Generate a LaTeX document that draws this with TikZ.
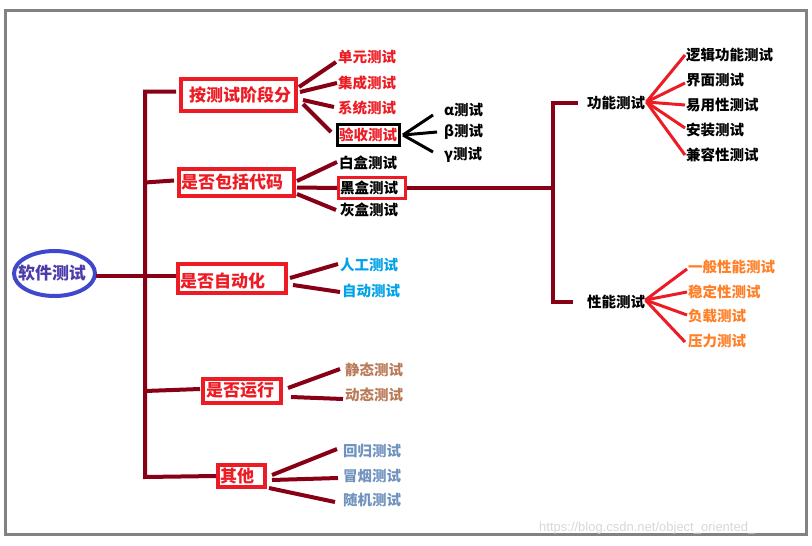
\documentclass[tikz,border=0pt]{standalone}
\usepackage{fontspec}
\setmainfont{Liberation Sans}
\newfontfamily\cjk{Noto Sans CJK SC}
\usetikzlibrary{shapes.geometric}
\definecolor{pred}{RGB}{237,28,36}
\definecolor{dred}{RGB}{136,0,21}
\definecolor{indig}{RGB}{63,72,204}
\definecolor{roottxt}{RGB}{75,60,170}
\definecolor{lblue}{RGB}{0,162,232}
\definecolor{brwn}{RGB}{185,122,87}
\definecolor{bgray}{RGB}{112,146,190}
\definecolor{orng}{RGB}{255,127,39}
\definecolor{frm}{RGB}{130,130,130}
\definecolor{wmk}{RGB}{215,215,215}
\begin{document}
\begin{tikzpicture}[x=1pt,y=-1pt,
  conn/.style={draw=dred,line width=4pt},
  fanred/.style={draw=pred,line width=3pt},
  fanblk/.style={draw=black,line width=3pt},
  leaf/.style={inner sep=0pt,anchor=west,font=\cjk\bfseries\fontsize{14.5}{16}\selectfont},
  cat/.style={inner sep=0pt,text=pred,font=\cjk\bfseries\fontsize{17}{19}\selectfont},
  catbox/.style={draw=pred,line width=4pt,inner sep=0pt},
  wm/.style={inner sep=0pt,text=wmk,font=\fontsize{13}{15}\selectfont}]
\useasboundingbox (0,0) rectangle (812,546);
\draw[frm,line width=3pt] (5.5,10.5) rectangle (806.5,534.5);

% root
\node[draw=indig,line width=4pt,ellipse,minimum width=81pt,minimum height=45pt,inner sep=0pt] (root) at (54.5,273.5) {};
\node[inner sep=0pt,text=roottxt,font=\cjk\bfseries\fontsize{17}{19}\selectfont] (rootlbl) at (52,273) {软件测试};

% categories
\node[catbox,minimum width=115pt,minimum height=32pt] (b1) at (238.5,95) {};
\node[cat] (t1) at (240,94.5) {按测试阶段分};
\node[catbox,minimum width=115pt,minimum height=27pt] (b2) at (236.5,182.5) {};
\node[cat,anchor=west] (t2) at (181,182.5) {是否包括代码};
\node[catbox,minimum width=108pt,minimum height=29pt] (b3) at (232,278.5) {};
\node[cat,anchor=west] (t3) at (180,281) {是否自动化};
\node[catbox,minimum width=78pt,minimum height=24pt] (b4) at (242,391) {};
\node[cat,anchor=west] (t4) at (206,390) {是否运行};
\node[catbox,minimum width=47pt,minimum height=22pt] (b5) at (241.5,476) {};
\node[cat,anchor=west] (t5) at (220,476) {其他};

% leaves of b1
\node[leaf,text=pred] (l11) at (338,57) {单元测试};
\node[leaf,text=pred] (l12) at (338,83) {集成测试};
\node[leaf,text=pred] (l13) at (338,108) {系统测试};
\node[draw=black,line width=3pt,minimum width=62pt,minimum height=21pt,inner sep=0pt] (ys) at (368.5,135) {};
\node[leaf,text=pred] (yst) at (339,135) {验收测试};
\node[leaf] (ga) at (444,110) {α测试};
\node[leaf] (gb) at (444,132) {β测试};
\node[leaf] (gc) at (444,155) {γ测试};

% leaves of b2
\node[leaf] (l21) at (339,163) {白盒测试};
\node[draw=pred,line width=3pt,minimum width=67pt,minimum height=21pt,inner sep=0pt] (bb) at (372,188) {};
\node[leaf] (bbt) at (340,188) {黑盒测试};
\node[leaf] (l23) at (340,210) {灰盒测试};

% leaves of b3, b4, b5
\node[leaf,text=lblue] (l31) at (340,265) {人工测试};
\node[leaf,text=lblue] (l32) at (342,291) {自动测试};
\node[leaf,text=brwn] (l41) at (345,370) {静态测试};
\node[leaf,text=brwn] (l42) at (345,395) {动态测试};
\node[leaf,text=bgray] (l51) at (343,451) {回归测试};
\node[leaf,text=bgray] (l52) at (343,476) {冒烟测试};
\node[leaf,text=bgray] (l53) at (343,500) {随机测试};

% right side
\node[leaf] (fn) at (587,103) {功能测试};
\node[leaf] (pn) at (587,302) {性能测试};
\node[leaf] (f1) at (686,55) {逻辑功能测试};
\node[leaf] (f2) at (686,80) {界面测试};
\node[leaf] (f3) at (686,105) {易用性测试};
\node[leaf] (f4) at (686,130) {安装测试};
\node[leaf] (f5) at (686,155) {兼容性测试};
\node[leaf,text=orng] (p1) at (688,267) {一般性能测试};
\node[leaf,text=orng] (p2) at (688,292) {稳定性测试};
\node[leaf,text=orng] (p3) at (688,316) {负载测试};
\node[leaf,text=orng] (p4) at (688,341) {压力测试};

\node[wm,anchor=base west] (wmk) at (539,531) {https://blog.csdn.net/object\_oriented\_};

% trunk
\coordinate (tb) at (145,477);
\coordinate (vx) at (553,188);
\draw[conn] ([shift={(-3,-3.5)}]b1.west) -| (tb) -- (b5.west);
\draw[conn] (b2.west -| tb) -- ([shift={(-3,-2)}]b2.west);
\draw[conn] (b4.west -| tb) -- ([shift={(-1,-2)}]b4.west);
\draw[conn] ([shift={(-1,2.5)}]root.east) -- ([shift={(0,-2.5)}]b3.west);

% fans b1
\draw[conn] ([shift={(1,-8)}]b1.east) -- ([shift={(-2,5)}]l11.west);
\draw[conn] ([shift={(2,-3)}]b1.east) -- ([shift={(-1,0)}]l12.west);
\draw[conn] ([shift={(5,5)}]b1.east) -- ([shift={(-4,-1)}]l13.west);
\draw[conn] ([shift={(5,9)}]b1.east) -- ([shift={(-5,-3)}]ys.west);
\draw[fanblk] ([shift={(2,0)}]ys.east) -- ([shift={(-11,5)}]ga.west);
\draw[fanblk] ([shift={(2,0)}]ys.east) -- ([shift={(-7,0)}]gb.west);
\draw[fanblk] ([shift={(2,0)}]ys.east) -- ([shift={(-11,-3)}]gc.west);

% fans b2
\draw[conn] ([shift={(1,-1.5)}]b2.east) -- ([shift={(-2,-1)}]l21.west);
\draw[conn] ([shift={(1,5)}]b2.east) -- (bb.west);
\draw[conn] ([shift={(1,11.5)}]b2.east) -- ([shift={(-4,0)}]l23.west);
\draw[conn] (bb.east) -- (vx);
\draw[conn] ([shift={(-9,0)}]fn.west) -| (vx) |- ([shift={(-14,0)}]pn.west);

% fans b3, b4, b5
\draw[conn] ([shift={(2,-0.5)}]b3.east) -- ([shift={(-2,-1)}]l31.west);
\draw[conn] ([shift={(5,6.5)}]b3.east) -- ([shift={(-2,1)}]l32.west);
\draw[conn] ([shift={(5,-3)}]b4.east) -- ([shift={(-5,-1)}]l41.west);
\draw[conn] ([shift={(8,6)}]b4.east) -- ([shift={(-2,4)}]l42.west);
\draw[conn] ([shift={(5,-1)}]b5.east) -- ([shift={(-6,-2)}]l51.west);
\draw[conn] ([shift={(5,4)}]b5.east) -- ([shift={(-5,2)}]l52.west);
\draw[conn] ([shift={(2,12)}]b5.east) -- ([shift={(-8,2)}]l53.west);

% right fans
\draw[fanred] ([shift={(1,-1)}]fn.east) -- ([shift={(-1,0)}]f1.west);
\draw[fanred] ([shift={(1,-1)}]fn.east) -- ([shift={(-1,3)}]f2.west);
\draw[fanred] ([shift={(1,-1)}]fn.east) -- ([shift={(-1,0)}]f3.west);
\draw[fanred] ([shift={(1,-1)}]fn.east) -- ([shift={(-1,-2)}]f4.west);
\draw[fanred] ([shift={(1,-1)}]fn.east) -- ([shift={(-1,0)}]f5.west);
\draw[fanred] ([shift={(0,-2)}]pn.east) -- ([shift={(-1,2)}]p1.west);
\draw[fanred] ([shift={(0,-2)}]pn.east) -- ([shift={(-1,0)}]p2.west);
\draw[fanred] ([shift={(0,-2)}]pn.east) -- ([shift={(-1,-1)}]p3.west);
\draw[fanred] ([shift={(0,-2)}]pn.east) -- ([shift={(-3,1)}]p4.west);
\end{tikzpicture}
\end{document}
